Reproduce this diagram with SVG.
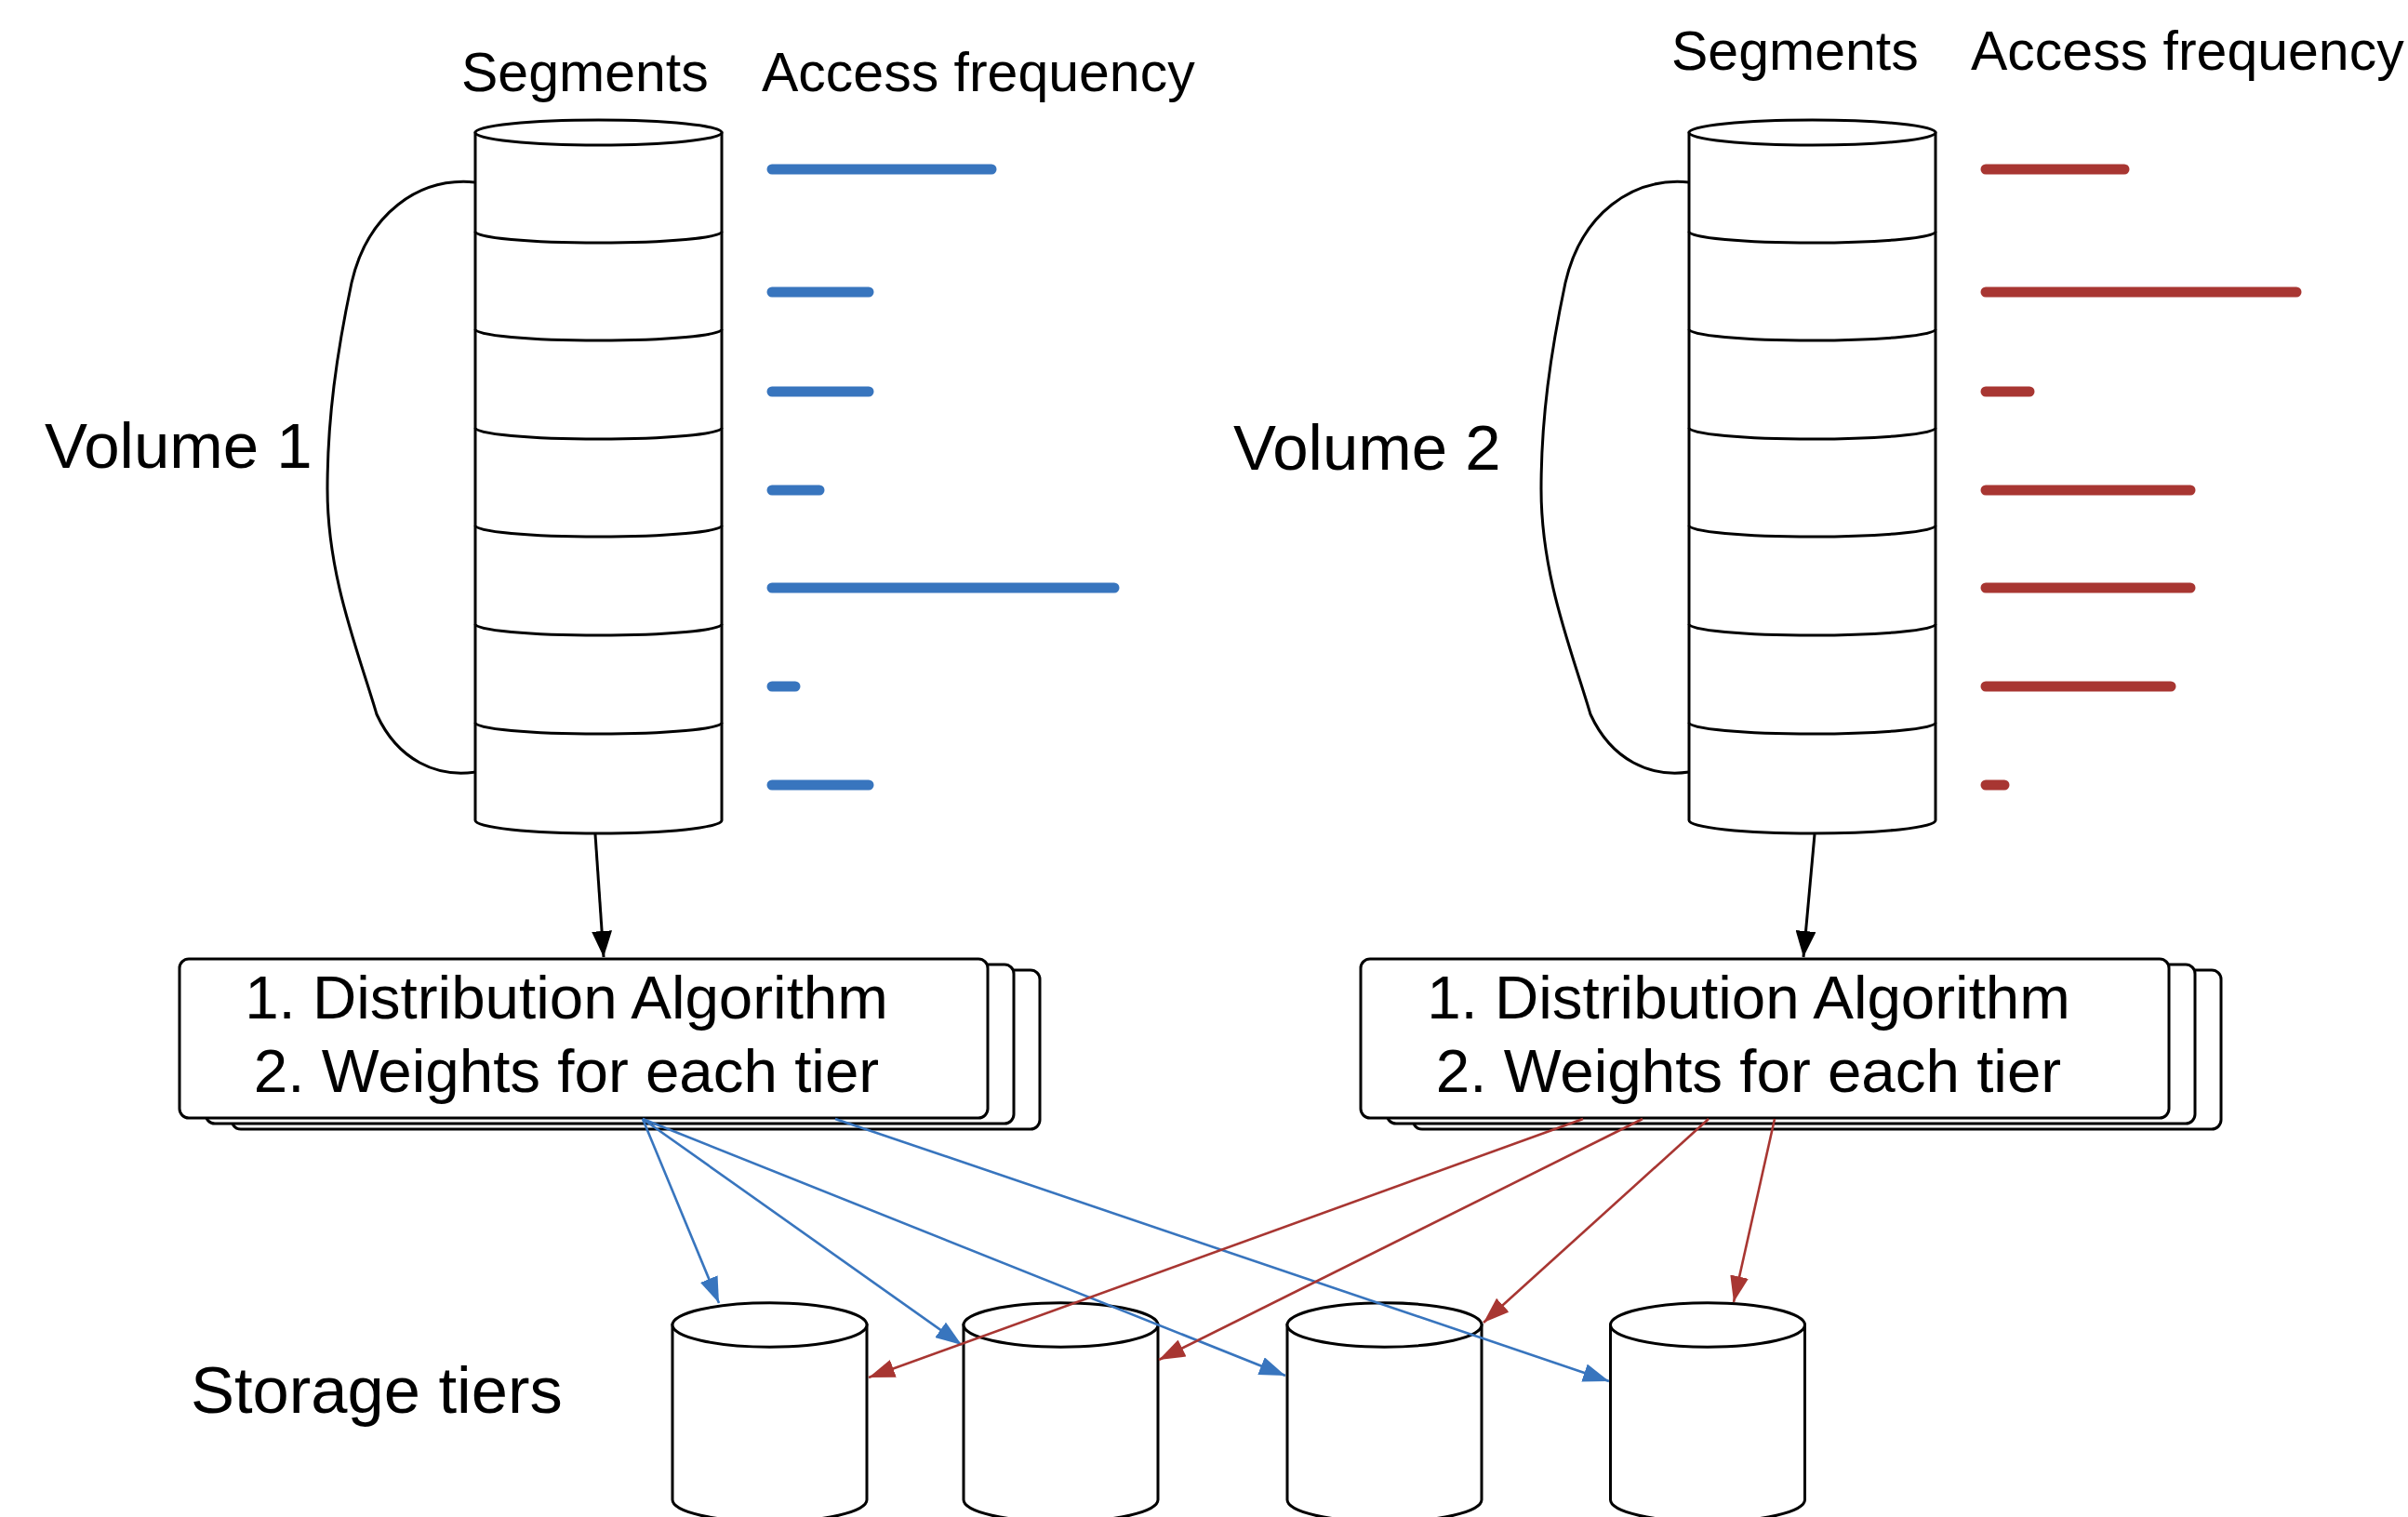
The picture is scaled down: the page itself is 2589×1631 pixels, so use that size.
<svg xmlns="http://www.w3.org/2000/svg" xmlns:xlink="http://www.w3.org/1999/xlink" width="2589" height="1631" viewBox="0 0 2589 1631">
  <style>
    .t { font-family: "Liberation Sans", Arial, Helvetica, sans-serif; fill: #000; }
    .hdr { font-size: 59px; }
    .vol { font-size: 69px; }
    .box-t { font-size: 65.5px; text-anchor: middle; }
    .shape { fill: #fff; stroke: #000; stroke-width: 3; }
    .seg { fill: none; stroke: #000; stroke-width: 3; }
    .brace { fill: none; stroke: #000; stroke-width: 3; }
    .bar { stroke-width: 11; stroke-linecap: round; }
    .blue { stroke: #3875BE; }
    .red { stroke: #A83632; }
    .edge { fill: none; stroke-width: 2.6; }
    .edge-k { fill: none; stroke: #000; stroke-width: 3; marker-end: url(#ah-k); }
    .edge-b { marker-end: url(#ah-b); }
    .edge-r { marker-end: url(#ah-r); }
  </style>
  <defs>
    <marker id="ah-k" markerUnits="userSpaceOnUse" markerWidth="28" markerHeight="22" refX="28" refY="11" orient="auto">
      <path d="M0,0 L28,11 L0,22 z" fill="#000"/>
    </marker>
    <marker id="ah-b" markerUnits="userSpaceOnUse" markerWidth="28" markerHeight="20" refX="28" refY="10" orient="auto">
      <path d="M0,0 L28,10 L0,20 z" fill="#3875BE"/>
    </marker>
    <marker id="ah-r" markerUnits="userSpaceOnUse" markerWidth="28" markerHeight="20" refX="28" refY="10" orient="auto">
      <path d="M0,0 L28,10 L0,20 z" fill="#A83632"/>
    </marker>

    <!-- volume drawn as a stack of seven segments -->
    <g id="seg-cylinder">
      <path class="brace" d="M511,196 C450,190 395,230 378,304 C362,380 352,450 352,526 C352,620 385,700 405,768 C428,818 470,836 511,830"/>
      <path class="shape" d="M511,143 V882 A132.5,14 0 0 0 776,882 V143 z"/>
      <ellipse class="shape" cx="643.5" cy="142.5" rx="132.5" ry="13.5"/>
      <path class="seg" d="M511,249 A132.5,12 0 0 0 776,249"/>
      <path class="seg" d="M511,354 A132.5,12 0 0 0 776,354"/>
      <path class="seg" d="M511,460 A132.5,12 0 0 0 776,460"/>
      <path class="seg" d="M511,565 A132.5,12 0 0 0 776,565"/>
      <path class="seg" d="M511,671 A132.5,12 0 0 0 776,671"/>
      <path class="seg" d="M511,777 A132.5,12 0 0 0 776,777"/>
    </g>

    <!-- stacked algorithm card -->
    <g id="algo-stack">
      <rect class="shape" x="249" y="1043" width="869" height="171" rx="10"/>
      <rect class="shape" x="221" y="1037" width="869" height="171" rx="10"/>
      <rect class="shape" x="193" y="1031" width="869" height="171" rx="10"/>
    </g>

    <!-- storage tier cylinder, origin at top ellipse centre -->
    <g id="tier">
      <path class="shape" d="M-104.5,0 V188 A104.5,23.7 0 0 0 104.5,188 V0 z"/>
      <ellipse class="shape" cx="0" cy="0" rx="104.5" ry="23.7"/>
    </g>
  </defs>

  <rect width="2589" height="1631" fill="#fff"/>

  <!-- Volume 1 -->
  <g id="volume1">
    <text class="t hdr" x="496" y="98">Segments</text>
    <text class="t hdr" x="819" y="98">Access frequency</text>
    <text class="t vol" x="48" y="503">Volume 1</text>
    <use xlink:href="#seg-cylinder"/>
    <g id="volume1-freq">
      <line class="bar blue" x1="830" y1="182" x2="1066" y2="182"/>
      <line class="bar blue" x1="830" y1="314" x2="934" y2="314"/>
      <line class="bar blue" x1="830" y1="421" x2="934" y2="421"/>
      <line class="bar blue" x1="830" y1="527" x2="881" y2="527"/>
      <line class="bar blue" x1="830" y1="632" x2="1198" y2="632"/>
      <line class="bar blue" x1="830" y1="738" x2="855" y2="738"/>
      <line class="bar blue" x1="830" y1="844" x2="934" y2="844"/>
    </g>
  </g>

  <!-- Volume 2 -->
  <g id="volume2">
    <text class="t hdr" x="1797" y="75">Segments</text>
    <text class="t hdr" x="2119" y="75">Access frequency</text>
    <text class="t vol" x="1326" y="505">Volume 2</text>
    <use xlink:href="#seg-cylinder" x="1305"/>
    <g id="volume2-freq">
      <line class="bar red" x1="2135" y1="182" x2="2284" y2="182"/>
      <line class="bar red" x1="2135" y1="314" x2="2469" y2="314"/>
      <line class="bar red" x1="2135" y1="421" x2="2182" y2="421"/>
      <line class="bar red" x1="2135" y1="527" x2="2355" y2="527"/>
      <line class="bar red" x1="2135" y1="632" x2="2355" y2="632"/>
      <line class="bar red" x1="2135" y1="738" x2="2334" y2="738"/>
      <line class="bar red" x1="2135" y1="844" x2="2155" y2="844"/>
    </g>
  </g>

  <!-- Distribution cards -->
  <g id="algo1">
    <use xlink:href="#algo-stack"/>
    <text class="t box-t" x="609" y="1095">1. Distribution Algorithm</text>
    <text class="t box-t" x="609" y="1174">2. Weights for each tier</text>
  </g>
  <g id="algo2">
    <use xlink:href="#algo-stack" x="1270"/>
    <text class="t box-t" x="1880" y="1095">1. Distribution Algorithm</text>
    <text class="t box-t" x="1880" y="1174">2. Weights for each tier</text>
  </g>

  <!-- Storage tiers -->
  <g id="storage-tiers">
    <text class="t" font-size="70.5" x="205" y="1519">Storage tiers</text>
    <g id="tier1"><use xlink:href="#tier" transform="translate(827.5,1424.5)"/></g>
    <g id="tier2"><use xlink:href="#tier" transform="translate(1140.5,1424.5)"/></g>
    <g id="tier3"><use xlink:href="#tier" transform="translate(1488.5,1424.5)"/></g>
    <g id="tier4"><use xlink:href="#tier" transform="translate(1836,1424.5)"/></g>
  </g>

  <!-- Connectors -->
  <g id="connectors">
    <line class="edge-k" x1="640" y1="897" x2="649" y2="1029"/>
    <line class="edge-k" x1="1951" y1="897" x2="1939" y2="1029"/>

    <line class="edge blue edge-b" x1="691" y1="1203" x2="773" y2="1401"/>
    <line class="edge blue edge-b" x1="691" y1="1203" x2="1034" y2="1446"/>
    <line class="edge blue edge-b" x1="691" y1="1203" x2="1382" y2="1479"/>
    <line class="edge blue edge-b" x1="898" y1="1203" x2="1730" y2="1485"/>

    <line class="edge red edge-r" x1="1702" y1="1203" x2="934" y2="1481"/>
    <line class="edge red edge-r" x1="1766" y1="1203" x2="1246" y2="1462"/>
    <line class="edge red edge-r" x1="1837" y1="1203" x2="1595" y2="1422"/>
    <line class="edge red edge-r" x1="1908" y1="1203" x2="1864" y2="1400"/>
  </g>
</svg>
